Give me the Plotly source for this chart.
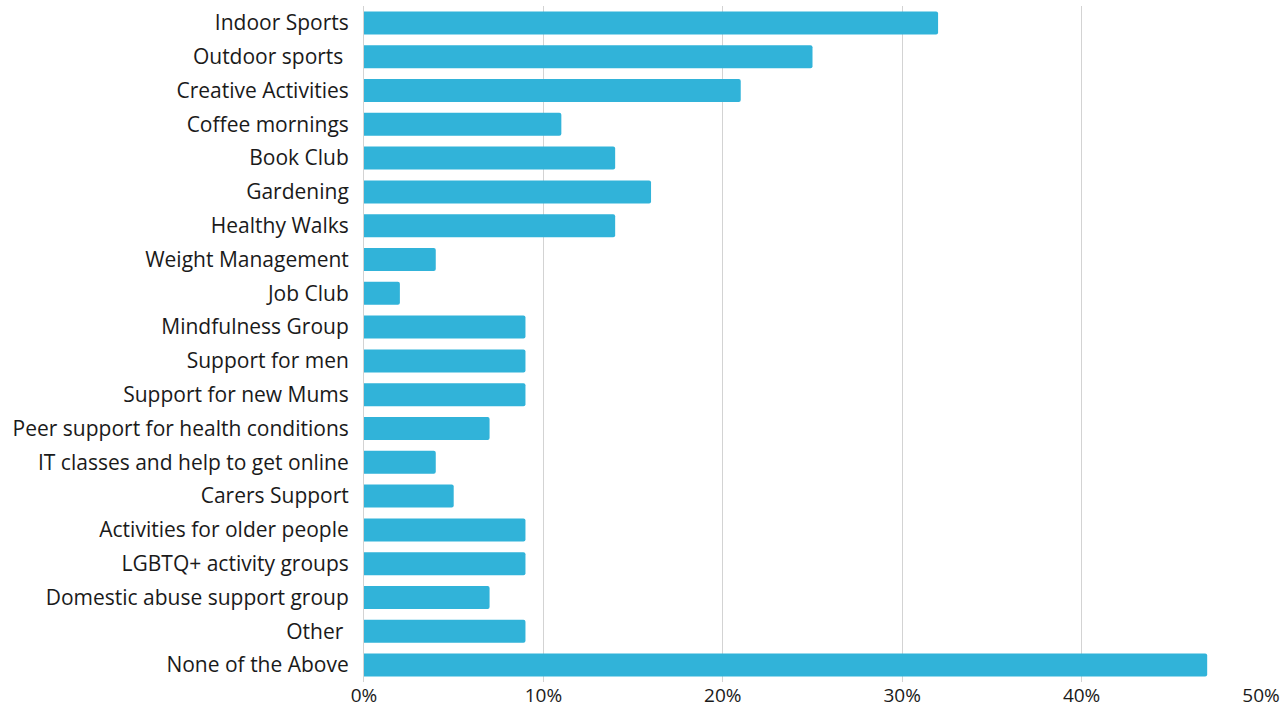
import plotly.graph_objects as go

categories = [
    "Indoor Sports", "Outdoor sports\u00a0", "Creative Activities", "Coffee mornings",
    "Book Club", "Gardening", "Healthy Walks", "Weight Management", "Job Club",
    "Mindfulness Group", "Support for men", "Support for new Mums",
    "Peer support for health conditions", "IT classes and help to get online",
    "Carers Support", "Activities for older people", "LGBTQ+ activity groups",
    "Domestic abuse support group", "Other\u00a0", "None of the Above",
]
values = [0.32, 0.25, 0.21, 0.11, 0.14, 0.16, 0.14, 0.04, 0.02, 0.09,
          0.09, 0.09, 0.07, 0.04, 0.05, 0.09, 0.09, 0.07, 0.09, 0.47]
x_ticks = [0, 0.1, 0.2, 0.3, 0.4, 0.5]
x_tick_labels = ["0%", "10%", "20%", "30%", "40%", "50%"]

fig = go.Figure(go.Bar(
    x=values, y=categories, orientation="h",
    marker=dict(color="#31b3d9", cornerradius=2, line=dict(width=0)),
))

font = "Open Sans, Lato, sans-serif"
fig.update_layout(
    width=1286, height=710,
    margin=dict(l=364, r=25, t=6, b=28),
    paper_bgcolor="white", plot_bgcolor="white",
    bargap=0.32,
    showlegend=False,
    font=dict(family=font, size=21, color="#1a1a1a"),
)
fig.update_xaxes(
    range=[0, 0.5], tickvals=x_ticks, ticktext=x_tick_labels,
    showgrid=True, gridcolor="#d3d3d3", gridwidth=1,
    zeroline=False, showline=False, ticks="", ticklen=0,
    automargin=False,
    tickfont=dict(size=19, color="#1a1a1a"),
)
fig.update_yaxes(
    categoryorder="array", categoryarray=categories, autorange="reversed",
    showgrid=False, showline=True, linecolor="#d3d3d3", linewidth=1,
    ticks="outside", ticklen=10, tickcolor="rgba(0,0,0,0)", automargin=False,
    tickfont=dict(size=21, color="#1a1a1a"),
)

fig.write_html("out.html")
